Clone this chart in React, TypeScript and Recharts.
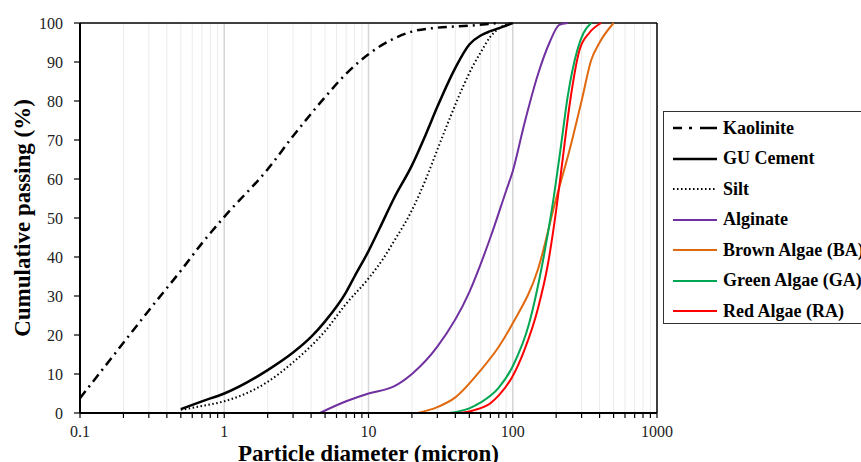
import {
  LineChart,
  Line,
  XAxis,
  YAxis,
  CartesianGrid,
  ReferenceLine,
  Legend,
  Label,
} from 'recharts'

// particle diameter (micron) vs cumulative passing (%)
const kaolinite = [
  { d: 0.1, p: 3.8 }, { d: 0.2, p: 18 }, { d: 0.3, p: 26.3 }, { d: 0.5, p: 36.5 },
  { d: 0.7, p: 43.5 }, { d: 1, p: 50.3 }, { d: 2, p: 62.5 }, { d: 3, p: 71 },
  { d: 5, p: 81 }, { d: 7, p: 87 }, { d: 10, p: 92 }, { d: 15, p: 96 },
  { d: 20, p: 97.8 }, { d: 30, p: 98.8 }, { d: 50, p: 99.3 }, { d: 80, p: 100 },
]
const guCement = [
  { d: 0.5, p: 1 }, { d: 0.7, p: 3 }, { d: 1, p: 5 }, { d: 2, p: 11 },
  { d: 3, p: 15.5 }, { d: 4, p: 19.5 }, { d: 5, p: 23.5 }, { d: 7, p: 31 },
  { d: 8, p: 35 }, { d: 10, p: 41.5 }, { d: 12, p: 47.5 }, { d: 15, p: 55 },
  { d: 20, p: 63.5 }, { d: 25, p: 71.5 }, { d: 30, p: 78.5 }, { d: 40, p: 88.5 },
  { d: 50, p: 94.5 }, { d: 60, p: 96.8 }, { d: 70, p: 97.9 }, { d: 85, p: 99 },
  { d: 100, p: 100 },
]
const silt = [
  { d: 0.5, p: 0.8 }, { d: 0.7, p: 1.8 }, { d: 1, p: 3 }, { d: 2, p: 8 },
  { d: 3, p: 13 }, { d: 5, p: 21 }, { d: 7, p: 28 }, { d: 10, p: 34.5 },
  { d: 12.6, p: 39.5 }, { d: 15, p: 44 }, { d: 20, p: 52 }, { d: 25, p: 60 },
  { d: 30, p: 67.5 }, { d: 37, p: 76 }, { d: 45, p: 83.5 }, { d: 53, p: 89 },
  { d: 60, p: 92.5 }, { d: 70, p: 96.5 }, { d: 85, p: 99.2 }, { d: 95, p: 100 },
]
const alginate = [
  { d: 4.6, p: 0 }, { d: 7, p: 3 }, { d: 10, p: 5 }, { d: 15, p: 6.8 },
  { d: 20, p: 10 }, { d: 30, p: 17 }, { d: 50, p: 31 }, { d: 70, p: 45 },
  { d: 90, p: 57 }, { d: 100, p: 62 }, { d: 120, p: 74 }, { d: 150, p: 87 },
  { d: 180, p: 95 }, { d: 210, p: 99.5 }, { d: 240, p: 100 },
]
const brownAlgae = [
  { d: 22, p: 0 }, { d: 30, p: 1.5 }, { d: 40, p: 4 }, { d: 60, p: 11 },
  { d: 80, p: 17 }, { d: 100, p: 23 }, { d: 150, p: 37 }, { d: 200, p: 55 },
  { d: 250, p: 68 }, { d: 300, p: 80 }, { d: 350, p: 90.5 }, { d: 400, p: 95 },
  { d: 500, p: 100 },
]
const greenAlgae = [
  { d: 36, p: 0 }, { d: 50, p: 1.2 }, { d: 60, p: 2.7 }, { d: 80, p: 6.5 },
  { d: 100, p: 12 }, { d: 130, p: 23 }, { d: 160, p: 38 }, { d: 190, p: 54 },
  { d: 215, p: 68 }, { d: 240, p: 81 }, { d: 280, p: 93 }, { d: 310, p: 97.5 },
  { d: 350, p: 100 },
]
const redAlgae = [
  { d: 42, p: 0 }, { d: 55, p: 0.8 }, { d: 70, p: 2.5 }, { d: 80, p: 4.5 },
  { d: 100, p: 9.5 }, { d: 120, p: 16 }, { d: 150, p: 27 }, { d: 175, p: 38 },
  { d: 200, p: 52 }, { d: 220, p: 64 }, { d: 250, p: 80 }, { d: 290, p: 93 },
  { d: 340, p: 97.5 }, { d: 410, p: 100 },
]

const xTicks = [
  0.1, 0.2, 0.3, 0.4, 0.5, 0.6, 0.7, 0.8, 0.9,
  1, 2, 3, 4, 5, 6, 7, 8, 9,
  10, 20, 30, 40, 50, 60, 70, 80, 90,
  100, 200, 300, 400, 500, 600, 700, 800, 900,
  1000,
]
const xLabels = [0.1, 1, 10, 100, 1000]
const majorLines = [1, 10, 100]
const yTicks = [0, 10, 20, 30, 40, 50, 60, 70, 80, 90, 100]

const FONT = "'Liberation Serif', 'Times New Roman', serif"

const series = [
  { name: 'Kaolinite', data: kaolinite, color: '#000', width: 2.5, dash: '9 5 2 5', key: '9 7 3 8 17' },
  { name: 'GU Cement', data: guCement, color: '#000', width: 2.5, dash: undefined, key: undefined },
  { name: 'Silt', data: silt, color: '#000', width: 2, dash: '1.5 2.5', key: '1.5 2.5' },
  { name: 'Alginate', data: alginate, color: '#7030A0', width: 2, dash: undefined, key: undefined },
  { name: 'Brown Algae (BA)', data: brownAlgae, color: '#E0690F', width: 2, dash: undefined, key: undefined },
  { name: 'Green Algae (GA)', data: greenAlgae, color: '#00A651', width: 2, dash: undefined, key: undefined },
  { name: 'Red Algae (RA)', data: redAlgae, color: '#FF0000', width: 2, dash: undefined, key: undefined },
]

function LegendBox() {
  return (
    <div
      style={{
        border: '1.5px solid #333',
        width: 220,
        height: 213,
        boxSizing: 'border-box',
        background: '#fff',
        paddingTop: 1,
      }}
    >
      {series.map((s) => (
        <div key={s.name} style={{ display: 'flex', alignItems: 'center', height: 30.5 }}>
          <svg width={46} height={10} style={{ marginLeft: 9, flex: 'none' }}>
            <line
              x1={0}
              y1={5}
              x2={44}
              y2={5}
              stroke={s.color}
              strokeWidth={s.width}
              strokeDasharray={s.key}
            />
          </svg>
          <span
            style={{
              fontFamily: FONT,
              fontWeight: 'bold',
              fontSize: 18,
              color: '#000',
              marginLeft: 4,
              whiteSpace: 'nowrap',
            }}
          >
            {s.name}
          </span>
        </div>
      ))}
    </div>
  )
}

export default function App() {
  return (
    <div style={{ position: 'absolute', left: 0, top: 0, width: 861, height: 462, background: '#fff', overflow: 'hidden' }}>
      <LineChart width={861} height={462} margin={{ top: 23, right: 204, left: 30, bottom: 0 }}>
        <CartesianGrid horizontal={false} stroke="#ececec" strokeWidth={1} />
        {majorLines.map((v) => (
          <ReferenceLine key={v} x={v} stroke="#d6d6d6" strokeWidth={1.5} />
        ))}
        <XAxis
          dataKey="d"
          type="number"
          scale="log"
          domain={[0.1, 1000]}
          allowDataOverflow
          ticks={xTicks}
          interval={0}
          height={49}
          tickSize={5}
          tickMargin={8}
          axisLine={{ stroke: '#000', strokeWidth: 2 }}
          tickLine={{ stroke: '#000', strokeWidth: 1.2 }}
          tick={{ fontFamily: FONT, fontSize: 16, fill: '#222' }}
          tickFormatter={(v: number) => (xLabels.includes(v) ? String(v) : '')}
        >
          <Label
            value="Particle diameter (micron)"
            position="insideBottom"
            offset={1}
            style={{ fontFamily: FONT, fontWeight: 'bold', fontSize: 23, fill: '#000' }}
          />
        </XAxis>
        <YAxis
          type="number"
          domain={[0, 100]}
          ticks={yTicks}
          interval={0}
          width={50}
          tickSize={6}
          tickMargin={11}
          axisLine={{ stroke: '#000', strokeWidth: 2 }}
          tickLine={{ stroke: '#000', strokeWidth: 1.2 }}
          tick={{ fontFamily: FONT, fontSize: 16, fill: '#222' }}
        >
          <Label
            value="Cumulative passing (%)"
            angle={-90}
            position="insideLeft"
            offset={-8}
            style={{ textAnchor: 'middle', fontFamily: FONT, fontWeight: 'bold', fontSize: 23, fill: '#000' }}
          />
        </YAxis>
        <ReferenceLine y={100} stroke="#000" strokeWidth={1.5} />
        <ReferenceLine x={1000} stroke="#000" strokeWidth={1.5} />
        {series.map((s) => (
          <Line
            key={s.name}
            data={s.data}
            dataKey="p"
            name={s.name}
            type="monotone"
            stroke={s.color}
            strokeWidth={s.width}
            strokeDasharray={s.dash}
            dot={false}
            activeDot={false}
            isAnimationActive={false}
          />
        ))}
        <Legend
          layout="vertical"
          align="center"
          verticalAlign="middle"
          content={() => <LegendBox />}
          wrapperStyle={{ position: 'absolute', left: 663, top: 111, width: 220, height: 213 }}
        />
      </LineChart>
    </div>
  )
}
